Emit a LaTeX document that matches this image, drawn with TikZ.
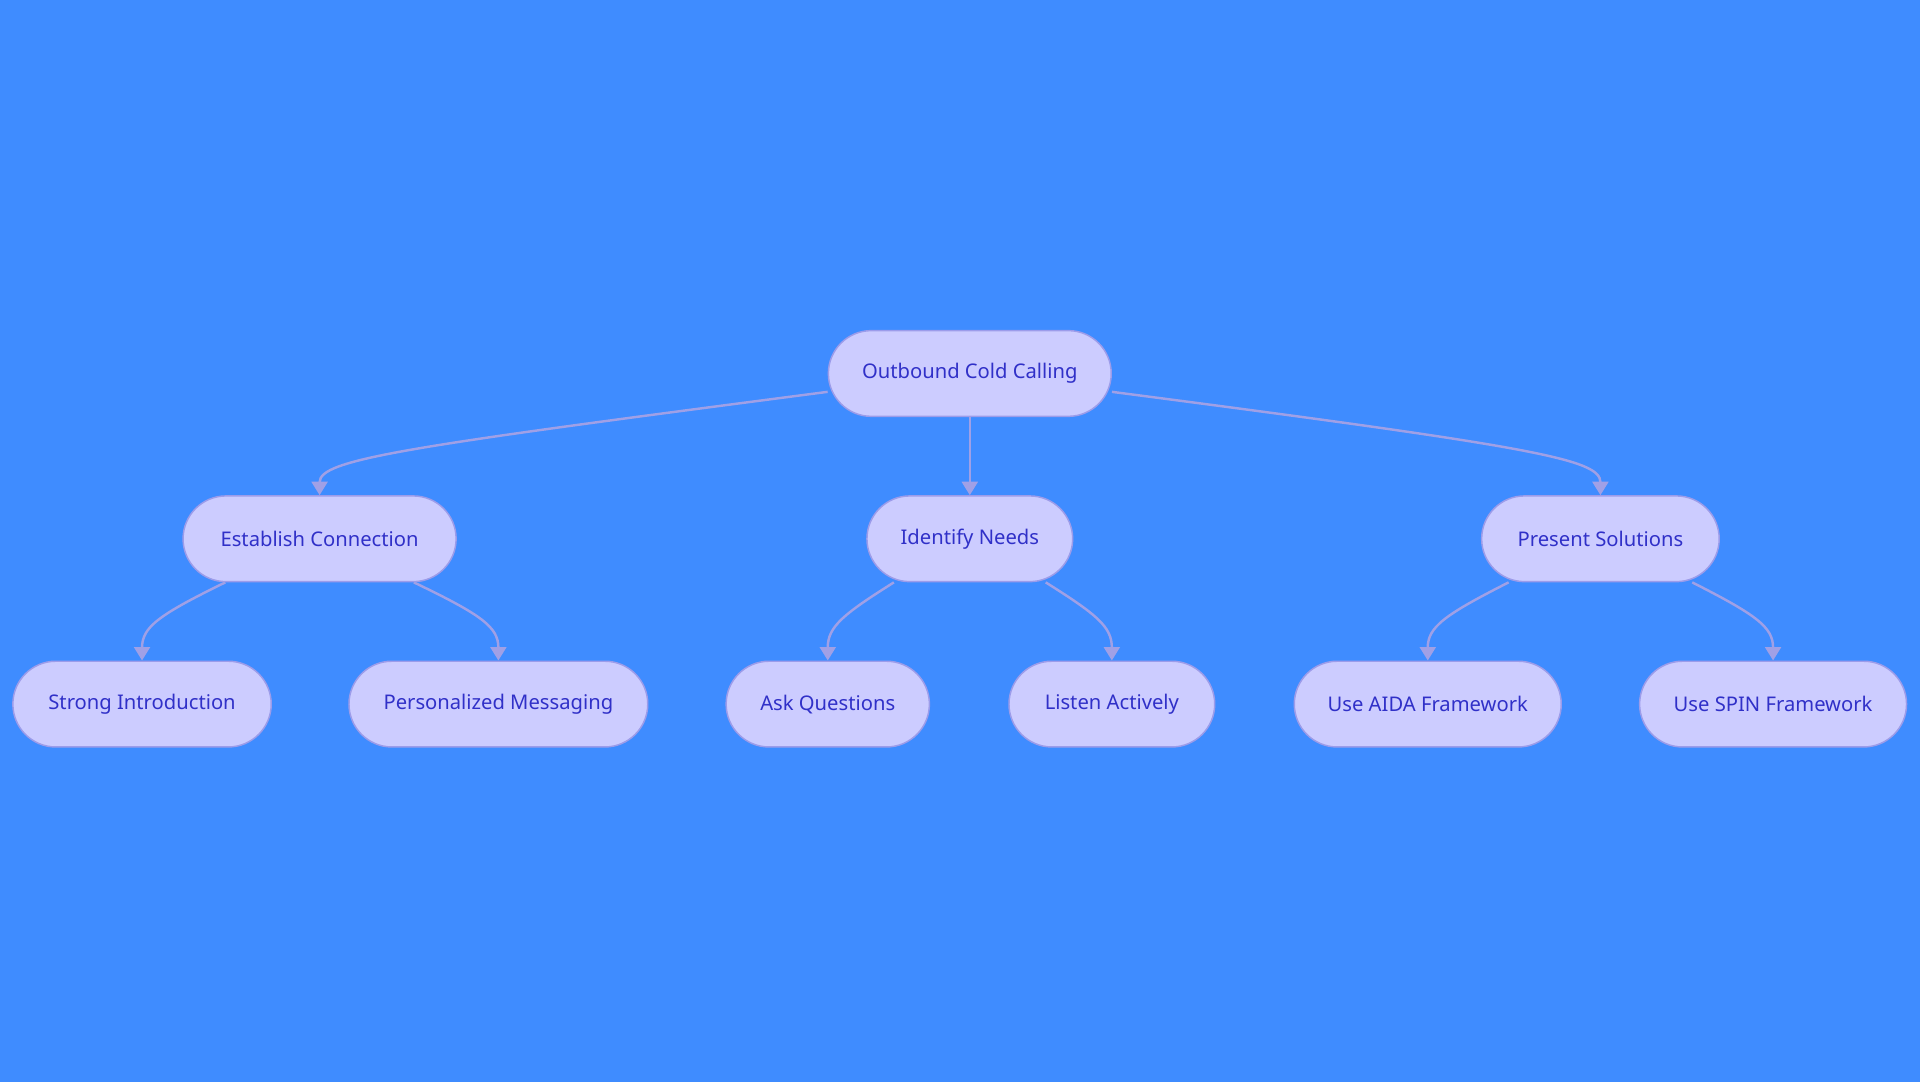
\documentclass[tikz,border=0pt]{standalone}
\usepackage{fontspec}
\setmainfont{Noto Sans}
\usetikzlibrary{arrows.meta,calc}
\definecolor{bg}{HTML}{3F8CFF}
\definecolor{nf}{HTML}{CCCCFF}
\definecolor{nd}{HTML}{9C9CEA}
\definecolor{tx}{HTML}{3030C8}
\definecolor{ed}{HTML}{A0A0E6}
\begin{document}
\begin{tikzpicture}[x=1pt,y=1pt,
 box/.style={draw=nd,line width=1.2pt,fill=nf,rounded corners=35pt,minimum height=70pt,text=tx,font=\fontsize{16.5}{20}\selectfont,inner sep=0pt},
 conn/.style={draw=ed,line width=2pt,-{Triangle[width=13pt,length=11pt]}}]
\fill[bg] (0,0) rectangle (1568,-884);
\useasboundingbox (0,0) rectangle (1568,-884);
\node[box,minimum width=231pt] (r) at (792,-305) {Outbound Cold Calling};
\node[box,minimum width=223pt] (ec) at (261,-440) {Establish Connection};
\node[box,minimum width=168pt] (in) at (792,-440) {Identify Needs};
\node[box,minimum width=194pt] (ps) at (1307,-440) {Present Solutions};
\node[box,minimum width=211pt] (si) at (116,-575) {Strong Introduction};
\node[box,minimum width=244pt] (pm) at (407,-575) {Personalized Messaging};
\node[box,minimum width=166pt] (aq) at (676,-575) {Ask Questions};
\node[box,minimum width=168pt] (la) at (908,-575) {Listen Actively};
\node[box,minimum width=218pt] (ua) at (1166,-575) {Use AIDA Framework};
\node[box,minimum width=218pt] (us) at (1448,-575) {Use SPIN Framework};
\draw[conn] ($(r.west)+(0,-15)$) .. controls (330,-365) and (261,-375) .. (ec.north);
\draw[conn] (r.south) -- (in.north);
\draw[conn] ($(r.east)+(0,-15)$) .. controls (1254,-365) and (1307,-375) .. (ps.north);
\draw[conn] ($(ec.south)+(-77,0)$) .. controls (130,-502) and (116,-512) .. (si.north);
\draw[conn] ($(ec.south)+(77,0)$) .. controls (393,-502) and (407,-512) .. (pm.north);
\draw[conn] ($(in.south)+(-62,0)$) .. controls (688,-502) and (676,-512) .. (aq.north);
\draw[conn] ($(in.south)+(62,0)$) .. controls (896,-502) and (908,-512) .. (la.north);
\draw[conn] ($(ps.south)+(-75,0)$) .. controls (1180,-502) and (1166,-512) .. (ua.north);
\draw[conn] ($(ps.south)+(75,0)$) .. controls (1434,-502) and (1448,-512) .. (us.north);
\end{tikzpicture}
\end{document}
